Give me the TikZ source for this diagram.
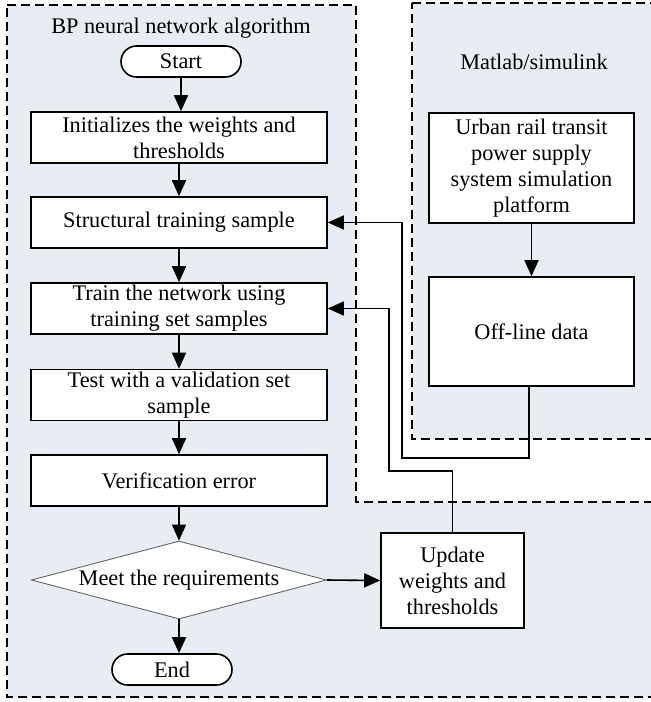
\documentclass[tikz,border=0pt]{standalone}
\usepackage{fontspec}
\setmainfont{Liberation Serif}
\usetikzlibrary{arrows.meta,shapes.geometric}
\definecolor{regionfill}{RGB}{232,237,244}
\begin{document}
\begin{tikzpicture}[x=1pt,y=-1pt,
  font=\fontsize{22.3}{26}\selectfont,
  region/.style={fill=regionfill,draw=black,line width=1.7pt,dash pattern=on 9pt off 5pt},
  stepbox/.style={draw=black,fill=white,line width=1.6pt,minimum width=296pt,minimum height=51pt,align=center,inner sep=0pt},
  sidebox/.style={draw=black,fill=white,line width=1.6pt,align=center,inner sep=0pt},
  terminal/.style={draw=black,fill=white,line width=1.6pt,rounded corners=15.5pt,minimum width=120pt,minimum height=31pt,inner sep=0pt},
  decision/.style={diamond,draw=black!60,fill=white,line width=0.9pt,aspect=3.78,minimum width=295pt,minimum height=78pt,inner sep=0pt},
  flow/.style={line width=1.6pt,-{Triangle[length=16pt,width=14pt]}},
  link/.style={line width=1.6pt,-{Triangle[length=16pt,width=14pt]}},
]
\useasboundingbox (0,0) rectangle (651,702);
\clip (0,0) rectangle (651,702);

% dashed group regions
\draw[region] (7,5) -- (356,5) -- (356,502) -- (665,502) -- (665,697) -- (7,697) -- cycle;
\draw[region] (412,3) -- (665,3) -- (665,439) -- (412,439) -- cycle;

\node (ttlbp) at (181,28) {BP neural network algorithm};
\node (ttlml) at (534,62) {Matlab/simulink};

% main flow
\node[terminal] (start) at (181,61.5) {Start};
\node[stepbox] (init) at (179,137.5) {Initializes the weights and\\thresholds};
\node[stepbox] (struct) at (179,222.5) {Structural training sample};
\node[stepbox] (train) at (179,308.5) {Train the network using\\training set samples};
\node[stepbox] (test) at (179,395) {Test with a validation set\\sample};
\node[stepbox] (verif) at (179,480.5) {Verification error};
\node[decision] (meet) at (179,580) {Meet the requirements};
\node[terminal] (stop) at (172,669.5) {End};

% side boxes
\node[sidebox,minimum width=143pt,minimum height=95pt] (update) at (452.5,580.5) {Update\\weights and\\thresholds};
\node[sidebox,minimum width=205pt,minimum height=110pt] (urban) at (531.5,168) {Urban rail transit\\power supply\\system simulation\\platform};
\node[sidebox,minimum width=205pt,minimum height=109pt] (offline) at (531.5,331.5) {Off-line data};

\draw[flow] (start.south) -- (start.south |- init.north);
\draw[flow] (init) -- (struct);
\draw[flow] (struct) -- (train);
\draw[flow] (train) -- (test);
\draw[flow] (test) -- (verif);
\draw[flow] (verif) -- (meet);
\draw[flow] (meet.south) -- (meet.south |- stop.north);
\draw[flow] (meet.east) -- (update.west);
\draw[flow] (urban) -- (offline);

% feedback lines
\coordinate (kdata) at (402,458);
\coordinate (kupd) at (389,471);
\draw[link] ([xshift=-2.5pt]offline.south) |- (kdata) |- (struct.east);
\draw[link] (update.north) |- (kupd) |- (train.east);
\end{tikzpicture}
\end{document}
